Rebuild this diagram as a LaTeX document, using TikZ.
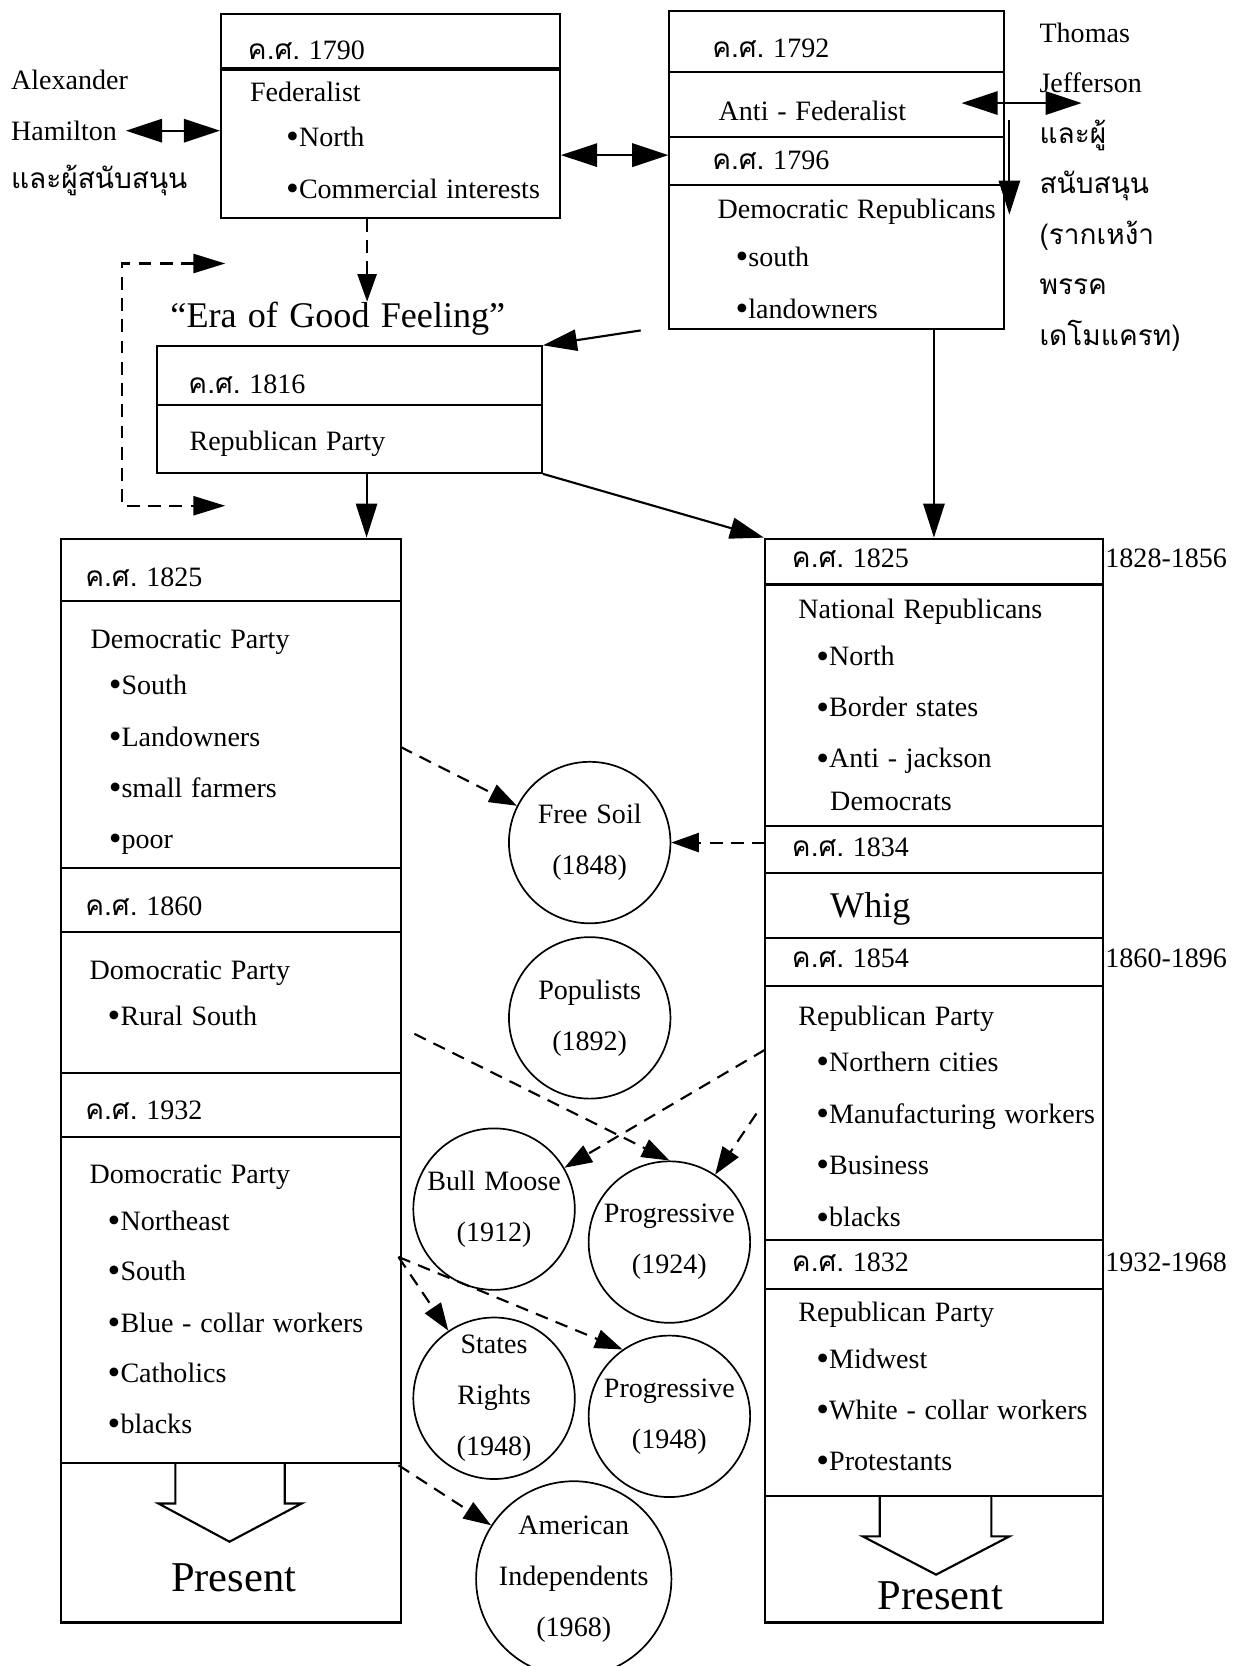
\documentclass[tikz,border=0pt]{standalone}
\usepackage{fontspec}
\setmainfont[WordSpace=1.25]{Liberation Serif}
\newfontfamily\thaifont[Script=Thai]{Loma}
\usepackage{tikz}
\usetikzlibrary{arrows.meta}
\usetikzlibrary{calc}
\usetikzlibrary{fit}
\usetikzlibrary{positioning}

\newcommand{\ks}{{\thaifont ค.ศ.}}
\newcommand{\itm}{\hspace*{8.5pt}\raisebox{-1pt}{\scalebox{1.3}{•}}}

\tikzset{
  partybox/.style={draw,rectangle,inner sep=0pt,line width=1pt},
  txt/.style={anchor=north west,inner sep=0pt,align=left},
  side/.style={anchor=west,inner sep=0pt},
  splinter/.style={draw,circle,inner sep=0pt,line width=0.8pt,minimum size=76pt,align=center},
  divider/.style={line width=1pt},
  thickdivider/.style={line width=1.6pt},
  oneway/.style={line width=1pt,-{Triangle[length=16pt,width=10pt]}},
  twoway/.style={line width=1pt,{Triangle[length=17pt,width=11pt]}-{Triangle[length=17pt,width=11pt]}},
  dashway/.style={line width=1pt,dash pattern=on 6pt off 4pt,-{Triangle[length=13pt,width=9pt]}},
  dashloop/.style={line width=1pt,dash pattern=on 6pt off 4pt,{Triangle[length=15pt,width=9pt]}-{Triangle[length=15pt,width=9pt]}},
  bigtext/.style={inner sep=0pt,font=\fontsize{17}{20}\selectfont},
  present/.style={inner sep=0pt,font=\fontsize{20}{24}\selectfont}
}

\begin{document}
\begin{tikzpicture}[x=0.5pt,y=-0.5pt,font=\fontsize{13.2}{24}\selectfont]
  \useasboundingbox (0,0) rectangle (1167,1568);

  % top boxes
  \node [partybox,fit={(208,13) (527,205)}] (F) {};
  \draw [thickdivider] (F.west |- 0,65) -- (F.east |- 0,65);
  \node [txt] (F_y1790) at (233,38) {\ks\ 1790};
  \node [txt] (F_fed) at (235,77) {Federalist\\[-3pt]\hspace*{8.5pt}\itm North\\[0.5pt]\hspace*{8.5pt}\itm Commercial interests};

  \node [partybox,fit={(630,10) (945,310)}] (AF) {};
  \foreach \y in {68,129,174}
    \draw [divider] (AF.west |- 0,\y) -- (AF.east |- 0,\y);
  \node [txt] (AF_y1792) at (670,36) {\ks\ 1792};
  \node [txt] (AF_anti) at (676,95) {Anti - Federalist};
  \node [txt] (AF_y1796) at (670,142) {\ks\ 1796};
  \node [txt] (AF_dem) at (675,187) {Democratic Republicans\\[-1.5pt]\itm south\\[0.5pt]\itm landowners};

  \node [partybox,fit={(148,326) (510,445)}] (R) {};
  \draw [divider] (R.west |- 0,381) -- (R.east |- 0,381);
  \node [txt] (R_y1816) at (177,352) {\ks\ 1816};
  \node [txt] (R_rep) at (178,405) {Republican Party};

  % side texts
  \node [side] (alex) at (10,75) {Alexander};
  \node [side] (hamilton) at (10,123) {Hamilton};
  \node [side] (ham_sup) at (10,170) {\thaifont และผู้สนับสนุน};
  \node [txt,font=\fontsize{13.2}{23.75}\selectfont] (jeff) at (978,21)
    {Thomas\\Jefferson\\{\thaifont และผู้}\\{\thaifont สนับสนุน}\\{\thaifont (รากเหง้า}\\{\thaifont พรรค}\\{\thaifont เดโมแครท)}};
  \node [bigtext] (era) at (318,300) {“Era of Good Feeling”};

  % left column
  \node [partybox,fit={(57,507) (377,1527)}] (L) {};
  \foreach \y in {566,817,877,1010,1070,1377}
    \draw [divider] (L.west |- 0,\y) -- (L.east |- 0,\y);
  \node [txt] (L_y1825) at (80,534) {\ks\ 1825};
  \node [txt] (L_dem1825) at (85,592) {Democratic Party\\[-2pt]\itm South\\[0.5pt]\itm Landowners\\\itm small farmers\\\itm poor};
  \node [txt] (L_y1860) at (80,844) {\ks\ 1860};
  \node [txt] (L_dem1860) at (84,904) {Domocratic Party\\[-2.5pt]\itm Rural South};
  \node [txt] (L_y1932) at (80,1036) {\ks\ 1932};
  \node [txt] (L_dem1932) at (84,1096) {Domocratic Party\\[-2pt]\itm Northeast\\[-0.5pt]\itm South\\[0.5pt]\itm Blue - collar workers\\[-0.5pt]\itm Catholics\\\itm blacks};
  \draw [line width=1pt] (165,1377) -- (165,1415) -- (149,1415) -- (216,1451) -- (284,1415) -- (268,1415) -- (268,1377);
  \node [present] (L_present) at (220,1485) {Present};

  % right column
  \node [partybox,fit={(720,507) (1038,1527)}] (Rc) {};
  \draw [thickdivider] (Rc.west |- 0,550) -- (Rc.east |- 0,550);
  \foreach \y in {777,822,883,928,1167,1213,1408}
    \draw [divider] (Rc.west |- 0,\y) -- (Rc.east |- 0,\y);
  \node [txt] (Rc_y1825) at (745,516) {\ks\ 1825};
  \node [txt] (Rc_nat) at (751,563) {National Republicans\\[-1.5pt]\itm North\\\itm Border states\\\itm Anti - jackson\\[-4pt]\hspace*{15pt}Democrats};
  \node [txt] (Rc_y1834) at (745,788) {\ks\ 1834};
  \node [side,font=\fontsize{17}{20}\selectfont] (whig) at (781,855) {Whig};
  \node [txt] (Rc_y1854) at (745,893) {\ks\ 1854};
  \node [txt] (Rc_rep1854) at (751,946) {Republican Party\\[-2pt]\itm Northern cities\\[0.5pt]\itm Manufacturing workers\\\itm Business\\[0.5pt]\itm blacks};
  \node [txt] (Rc_y1832) at (745,1179) {\ks\ 1832};
  \node [txt] (Rc_rep1932) at (751,1225) {Republican Party\\[-2pt]\itm Midwest\\\itm White - collar workers\\\itm Protestants};
  \draw [line width=1pt] (828,1408) -- (828,1446) -- (812,1446) -- (881,1482) -- (950,1446) -- (933,1446) -- (933,1408);
  \node [present] (Rc_present) at (885,1502) {Present};
  \node [side] (Rc_d1) at (1040,525) {1828-1856};
  \node [side] (Rc_d2) at (1040,902) {1860-1896};
  \node [side] (Rc_d3) at (1040,1188) {1932-1968};

  % third parties
  \node [splinter] (freesoil) at (555,793) {Free Soil\\(1848)};
  \node [splinter] (populists) at (555,958) {Populists\\(1892)};
  \node [splinter] (bullmoose) at (465,1138) {Bull Moose\\(1912)};
  \node [splinter] (prog24) at (630,1169) {Progressive\\(1924)};
  \node [splinter] (statesR) at (465,1316) {States\\Rights\\(1948)};
  \node [splinter] (prog48) at (630,1333) {Progressive\\(1948)};
  \node [splinter,minimum size=84pt] (amind) at (540,1486) {American\\Independents\\(1968)};

  % free ends
  \coordinate (jeff_l) at (905,97);
  \coordinate (jeff_r) at (1018,97);
  \coordinate (anti_top) at (950,113);
  \coordinate (anti_bot) at (950,202);
  \coordinate (af_out) at (603,311);
  \coordinate (loop_top) at (212,248);
  \coordinate (loop_bot) at (212,476);
  \coordinate (l_soil) at (377,703);
  \coordinate (r_soil) at (720,793);
  \coordinate (l_prog) at (390,973);
  \coordinate (r_moose) at (720,988);
  \coordinate (r_prog) at (712,1048);
  \coordinate (l_1948) at (375,1183);
  \coordinate (l_1968) at (375,1379);

  \path [twoway]
    ([xshift=4pt]hamilton.east)   edge (F.west |- hamilton.east)
    ([yshift=-18.5pt]F.east)      edge ([yshift=-18.5pt]F.east -| AF.west)
    (jeff_l)                      edge (jeff_r);

  \path [oneway]
    (anti_top)                    edge (anti_bot)
    (af_out)                      edge (R.north east)
    ([xshift=8pt]R.south)         edge ([xshift=8pt]R.south |- L.north)
    (R.south east)                edge (Rc.north west)
    (AF.south -| Rc.north)        edge (Rc.north);

  \draw [dashway] ([xshift=-11pt]F.south) -- ([xshift=-11pt]F.south |- era.north);
  \draw [dashloop] (loop_top) -- ++(-97,0) |- (loop_bot);

  \path [dashway]
    (l_soil)  edge (freesoil)
    (r_soil)  edge (freesoil)
    (l_prog)  edge (prog24.north)
    (r_moose) edge (bullmoose)
    (r_prog)  edge (prog24)
    (l_1948)  edge (statesR)
    (l_1948)  edge (prog48.125)
    (l_1968)  edge (amind);

\end{tikzpicture}
\end{document}
